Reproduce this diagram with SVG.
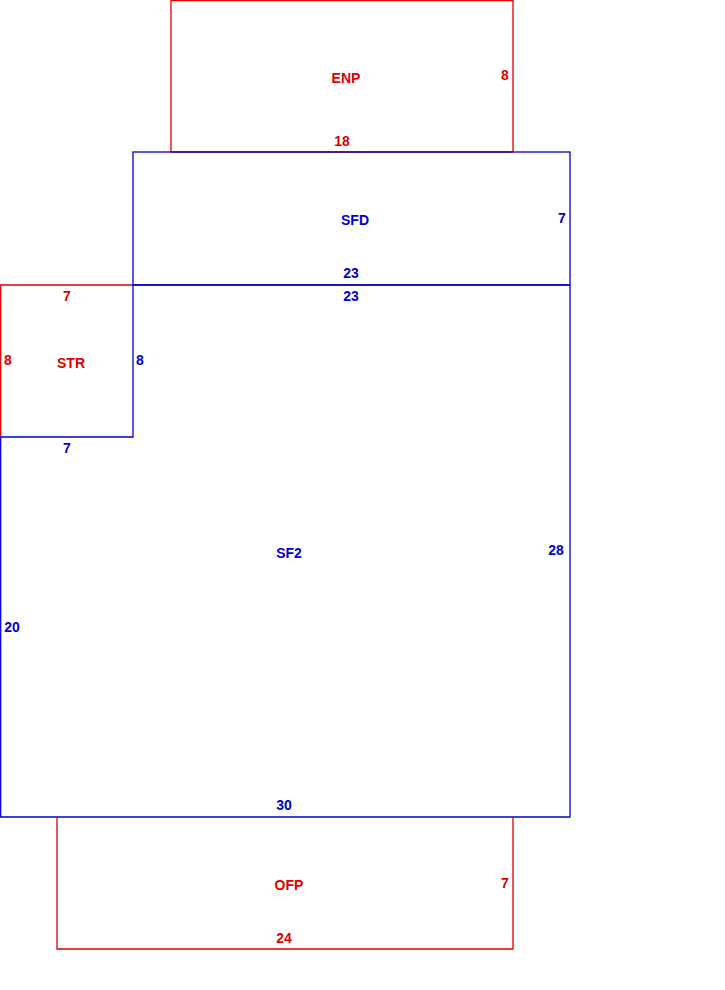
<svg xmlns="http://www.w3.org/2000/svg" width="725" height="990" viewBox="0 0 725 990">
<style>
.r{fill:none;stroke:#e00000;stroke-width:1.3}
.b{fill:none;stroke:#0000d0;stroke-width:1.3}
text{font-family:"Liberation Sans",Arial,sans-serif;font-weight:bold;font-size:14px;text-anchor:middle}
.tr{fill:#e00000}.tb{fill:#0000d0}
</style>
<rect width="725" height="990" fill="#fff"/>
<g id="ENP"><polyline class="r" points="171,152 171,0.5 513,0.5 513,152"/><line class="r" x1="171" y1="152" x2="513" y2="152"/>
<text class="tr" x="346" y="83">ENP</text><text class="tr" x="505" y="80">8</text><text class="tr" x="342" y="146">18</text></g>
<g id="STR"><polyline class="r" points="133,285 0.7,285 0.7,437"/>
<text class="tr" x="71" y="368">STR</text><text class="tr" x="67" y="301">7</text><text class="tr" x="8" y="365">8</text></g>
<g id="SFD"><rect class="b" x="133" y="152" width="437" height="133"/>
<text class="tb" x="355" y="225">SFD</text><text class="tb" x="562" y="223">7</text><text class="tb" x="351" y="278">23</text></g>
<g id="SF2"><polygon class="b" points="133,285 570,285 570,817 0.7,817 0.7,437 133,437"/>
<text class="tb" x="289" y="558">SF2</text><text class="tb" x="351" y="301">23</text><text class="tb" x="140" y="365">8</text><text class="tb" x="67" y="453">7</text><text class="tb" x="556" y="555">28</text><text class="tb" x="12" y="632">20</text><text class="tb" x="284" y="810">30</text></g>
<g id="OFP"><polyline class="r" points="57,817 57,949 513,949 513,817"/>
<text class="tr" x="289" y="890">OFP</text><text class="tr" x="505" y="888">7</text><text class="tr" x="284" y="943">24</text></g>
</svg>
